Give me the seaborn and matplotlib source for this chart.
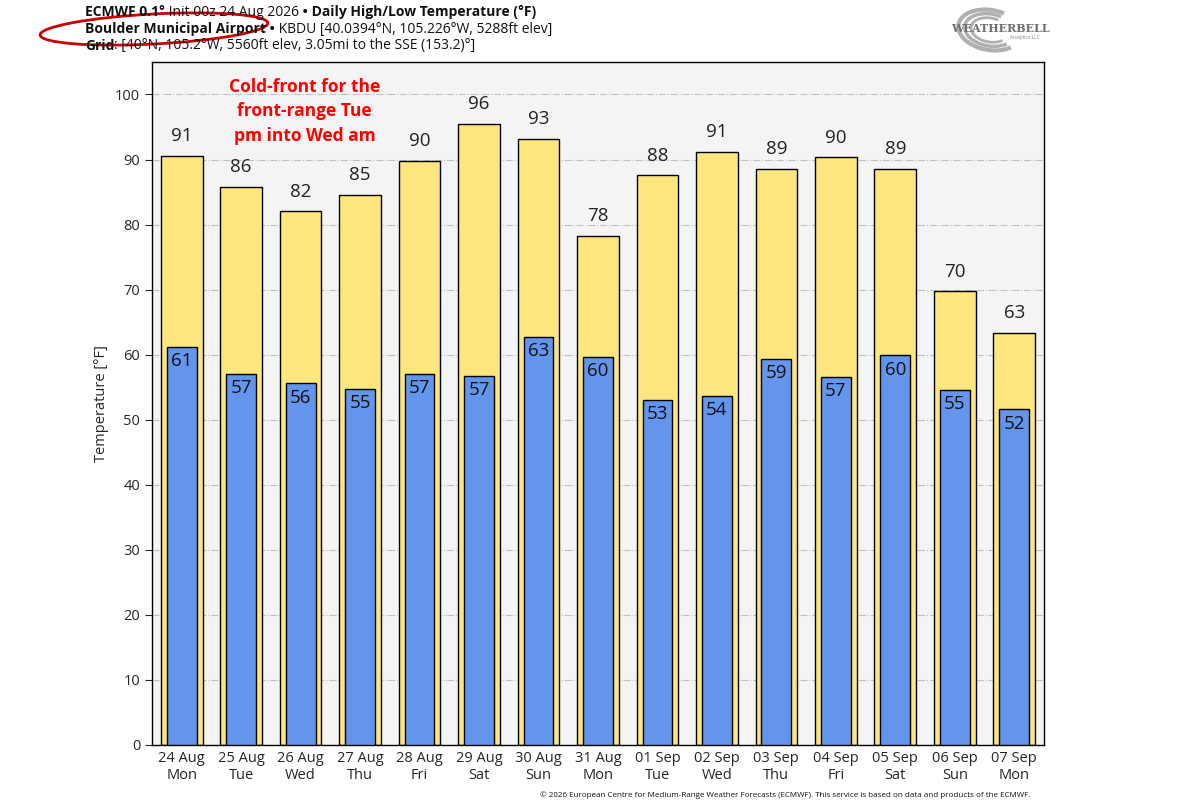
import seaborn as sns
import matplotlib.pyplot as plt
from matplotlib.patches import Ellipse, Arc
from matplotlib.transforms import IdentityTransform

# daily values
days = ["24 Aug\nMon", "25 Aug\nTue", "26 Aug\nWed", "27 Aug\nThu", "28 Aug\nFri",
        "29 Aug\nSat", "30 Aug\nSun", "31 Aug\nMon", "01 Sep\nTue", "02 Sep\nWed",
        "03 Sep\nThu", "04 Sep\nFri", "05 Sep\nSat", "06 Sep\nSun", "07 Sep\nMon"]
highs = [90.6, 85.8, 82.1, 84.6, 89.8, 95.5, 93.2, 78.3, 87.6, 91.2, 88.6, 90.4, 88.6, 69.8, 63.4]
lows = [61.2, 57.0, 55.6, 54.8, 57.0, 56.8, 62.7, 59.6, 53.1, 53.7, 59.3, 56.6, 59.9, 54.6, 51.6]
yticks = list(range(0, 101, 10))

sns.set_style("white")
plt.rcParams["font.family"] = ["Open Sans", "DejaVu Sans"]

fig = plt.figure(figsize=(11.92, 8.08), dpi=100)
ax = fig.add_axes([0.1275, 0.078, 0.7483, 0.8453])
ax.set_facecolor("#f4f4f4")

sns.barplot(x=days, y=highs, color="#fde67e", saturation=1, width=0.7,
            edgecolor="black", linewidth=1, ax=ax, zorder=2)
sns.barplot(x=days, y=lows, color="#6495ed", saturation=1, width=0.5,
            edgecolor="black", linewidth=1, ax=ax, zorder=3)

for i, (h, l) in enumerate(zip(highs, lows)):
    ax.text(i, h + 1.6, f"{round(h)}", ha="center", va="bottom", fontsize=13.5, color="#222222")
    ax.text(i, l - 0.8, f"{round(l)}", ha="center", va="top", fontsize=13.5, color="#111111", zorder=4)

ax.set_ylim(0, 105)
ax.set_xlim(-0.5, len(days) - 0.5)
ax.set_yticks(yticks)
ax.yaxis.grid(True, linestyle="-.", color="#c0c0c0", linewidth=0.8, zorder=0)
ax.set_axisbelow(True)
ax.set_ylabel("Temperature [°F]", fontsize=10.5)
ax.set_xlabel("")
ax.tick_params(axis="y", length=5, width=0.8, labelsize=10.5, left=True)
ax.tick_params(axis="x", length=0, labelsize=10.5, pad=4)
for s in ax.spines.values():
    s.set_color("black")
    s.set_linewidth(1)

ax.text(2.07, 102.6, "Cold-front for the\nfront-range Tue\npm into Wed am", ha="center", va="top",
        fontsize=12.5, fontweight="bold", color="#ff0000", linespacing=1.48)

# header lines, mixed bold / normal pieces
fig.canvas.draw()
renderer = fig.canvas.get_renderer()


def header(y, pieces):
    x = 85
    for txt, weight in pieces:
        t = fig.text(x, y, txt, transform=IdentityTransform(), fontsize=10,
                     fontweight=weight, va="center", ha="left", color="#111111")
        x += t.get_window_extent(renderer).width


header(808 - 12, [("ECMWF 0.1°", "bold"), (" Init 00z 24 Aug 2026", "normal"), (" •", "bold"),
                  (" Daily High/Low Temperature (°F)", "bold")])
header(808 - 29, [("Boulder Municipal Airport", "bold"), (" •", "bold"),
                  (" KBDU [40.0394°N, 105.226°W, 5288ft elev]", "normal")])
header(808 - 46, [("Grid", "bold"), (": [40°N, 105.2°W, 5560ft elev, 3.05mi to the SSE (153.2)°]", "normal")])

fig.patches.append(Ellipse((154, 808 - 29), 228, 30, angle=3, fill=False, edgecolor="#cc0000",
                           linewidth=2, transform=IdentityTransform(), figure=fig))

# logo approximation
for r, w in [(40, 3), (32, 2.5), (24, 2)]:
    fig.patches.append(Arc((990, 808 - 30), r * 1.6, r, angle=-10, theta1=60, theta2=330,
                           color="#b0b0b0", linewidth=w, transform=IdentityTransform(), figure=fig))
fig.text(1000, 808 - 28, "WEATHERBELL", transform=IdentityTransform(), fontsize=8,
         family="DejaVu Serif", fontweight="bold", color="#707070", ha="center", va="center")
fig.text(1025, 808 - 38, "Analytics LLC", transform=IdentityTransform(), fontsize=3.5,
         color="#808080", ha="center", va="center")

fig.text(1030, 808 - 795, "© 2026 European Centre for Medium-Range Weather Forecasts (ECMWF). "
         "This service is based on data and products of the ECMWF.",
         transform=IdentityTransform(), fontsize=5.8, ha="right", va="center", color="#111111")

fig.savefig("out.png", dpi=100)
